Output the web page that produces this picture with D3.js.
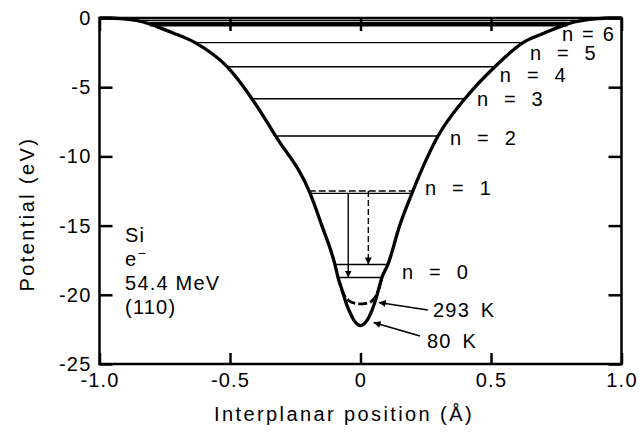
<!DOCTYPE html>
<html><head><meta charset="utf-8">
<script src="https://cdn.jsdelivr.net/npm/d3@7"></script>
<style>
html,body{margin:0;padding:0;background:#fff;}
svg{display:block;font-family:"Liberation Sans",Arial,Helvetica,sans-serif;}
</style></head><body>
<svg id="chart" width="644" height="432"></svg>
<script>
// Planar potential of Si (110) for 54.4 MeV electrons at 80 K
const wellX = [-1.0,-0.96,-0.92,-0.88,-0.833,-0.78,-0.718,-0.634,-0.511,-0.416,-0.325,-0.193,-0.148,-0.098,-0.086,-0.07,-0.055,-0.04,-0.025,-0.01,0,
               0.01,0.025,0.04,0.054,0.068,0.082,0.105,0.15,0.197,0.297,0.40,0.515,0.623,0.705,0.765,0.82,0.87,0.91,0.95,1.0];
const wellV = [0,0,-0.04,-0.12,-0.29,-0.62,-1.08,-1.78,-3.52,-5.83,-8.53,-12.67,-15.0,-17.81,-18.75,-19.7,-20.6,-21.3,-21.85,-22.15,-22.23,
               -22.15,-21.85,-21.3,-20.6,-19.7,-18.75,-17.81,-15.0,-12.67,-8.53,-5.83,-3.52,-1.78,-1.08,-0.62,-0.29,-0.12,-0.04,0,0];

// Thermally averaged bottom of the well at 293 K
const warmX = [-0.086,-0.07,-0.062,-0.045,-0.02,0,0.02,0.045,0.06,0.068,0.082];
const warmV = [-18.75,-19.7,-20.05,-20.42,-20.62,-20.66,-20.62,-20.42,-20.05,-19.7,-18.75];

// Bound-state energies (eV)
const levelNames = ["n = 0","n = 1","n = 2","n = 3","n = 4","n = 5","n = 6",""];
const levels80  = [-18.75,-12.67,-8.53,-5.83,-3.52,-1.78,-0.45,-0.18];
const levels293 = [-17.81,-12.5];

// Label anchors (Å, eV)
const levelLabelX = [0.159,0.247,0.343,0.446,0.534,0.649,0.772];
const levelLabelV = [-18.86,-12.79,-9.18,-6.36,-4.62,-3.03,-1.66];

// Transition arrows: position (Å), from level, to level
const arrowX    = [-0.047, 0.030];
const arrowFrom = [-12.67, -12.5];
const arrowTo   = [-18.75, -17.81];

const infoLines = ["Si","e","54.4 MeV","(110)"];
const tempLabels = ["293 K","80 K"];
const tempLabelX = [0.278,0.255];
const tempLabelV = [-21.6,-23.84];
const tempFromX  = [0.258,0.228];
const tempFromV  = [-21.1,-22.98];
const tempToX    = [0.07,0.05];
const tempToV    = [-20.55,-22.0];

const xTicks = [-1.0,-0.5,0,0.5,1.0];
const yTicks = [0,-5,-10,-15,-20,-25];

const svg = d3.select("#chart");
const x = d3.scaleLinear().domain([-1,1]).range([99.5,621.5]);
const y = d3.scaleLinear().domain([-25,0]).range([364,18]);

const FS = 20;
const LS = 1.2;

// arrowhead marker
const defs = svg.append("defs");
defs.append("marker").attr("id","head").attr("viewBox","0 0 10 10")
  .attr("refX",10).attr("refY",5).attr("markerWidth",7).attr("markerHeight",7)
  .attr("markerUnits","userSpaceOnUse").attr("orient","auto")
  .append("path").attr("d","M0,0L10,5L0,10Z").attr("fill","#000");

// crossing of a level with each wall of the well
function crossings(E){
  const pts=[];
  for(let i=0;i<wellX.length-1;i++){
    const a=wellV[i], b=wellV[i+1];
    if((a-E)*(b-E)<0 || (a===E && b!==E)){
      const t=(E-a)/(b-a);
      pts.push(wellX[i]+t*(wellX[i+1]-wellX[i]));
    }
  }
  return [d3.min(pts), d3.max(pts)];
}

const g = svg.append("g");

// energy levels
levels80.forEach((E,i)=>{
  const [a,b]=crossings(E);
  g.append("line").attr("x1",x(a)).attr("x2",x(b)).attr("y1",y(E)).attr("y2",y(E))
    .attr("stroke","#000").attr("stroke-width", i===6 ? 4.5 : 1.4);
});
levels293.forEach((E,i)=>{
  const [a,b]=crossings(E);
  g.append("line").attr("x1",x(a)).attr("x2",x(b)).attr("y1",y(E)).attr("y2",y(E))
    .attr("stroke","#000").attr("stroke-width",1.6)
    .attr("stroke-dasharray", i===1 ? "7,3" : null);
});

// transitions
arrowX.forEach((ax,i)=>{
  g.append("line").attr("x1",x(ax)).attr("x2",x(ax))
    .attr("y1",y(arrowFrom[i])).attr("y2",y(arrowTo[i]))
    .attr("stroke","#000").attr("stroke-width",1.4)
    .attr("stroke-dasharray", i===1 ? "6,3" : null)
    .attr("marker-end","url(#head)");
});

// potential curves
const line = d3.line().curve(d3.curveMonotoneX);
g.append("path").attr("d", line(wellX.map((v,i)=>[x(v),y(wellV[i])])))
  .attr("fill","none").attr("stroke","#000").attr("stroke-width",3.3).attr("stroke-linejoin","round");
g.append("path").attr("d", line(warmX.map((v,i)=>[x(v),y(warmV[i])])))
  .attr("fill","none").attr("stroke","#000").attr("stroke-width",2.8)
  .attr("stroke-dasharray","9,3");

// frame and axes
svg.append("rect").attr("x",x(-1)).attr("y",y(0)).attr("width",x(1)-x(-1)).attr("height",y(-25)-y(0))
  .attr("fill","none").attr("stroke","#000").attr("stroke-width",2.5);

function styleAxis(sel){
  sel.select(".domain").remove();
  sel.selectAll(".tick line").attr("stroke","#000").attr("stroke-width",2.5);
  sel.selectAll(".tick text").attr("fill","#000").attr("font-size",FS).attr("letter-spacing",LS)
     .attr("font-family",'"Liberation Sans",Arial,Helvetica,sans-serif');
}
const fx = d => d===0 ? "0" : d.toFixed(1);
svg.append("g").attr("transform",`translate(0,${y(-25)})`)
  .call(d3.axisBottom(x).tickValues(xTicks).tickSize(-11).tickPadding(9).tickFormat(fx))
  .call(styleAxis);
svg.append("g").attr("transform",`translate(0,${y(0)})`)
  .call(d3.axisTop(x).tickValues(xTicks).tickSize(-13).tickFormat(""))
  .call(styleAxis);
svg.append("g").attr("transform",`translate(${x(-1)},0)`)
  .call(d3.axisLeft(y).tickValues(yTicks).tickSize(-13).tickPadding(8).tickFormat(d=>String(d)))
  .call(styleAxis);
svg.append("g").attr("transform",`translate(${x(1)},0)`)
  .call(d3.axisRight(y).tickValues(yTicks).tickSize(-13).tickFormat(""))
  .call(styleAxis);

// axis titles
svg.append("text").attr("x",344).attr("y",421).attr("text-anchor","middle")
  .attr("font-size",FS).attr("letter-spacing",2.4).text("Interplanar position (Å)");
svg.append("text").attr("transform","translate(34,214) rotate(-90)").attr("text-anchor","middle")
  .attr("font-size",FS).attr("letter-spacing",2.4).text("Potential (eV)");

// level labels
levelLabelX.forEach((lx,i)=>{
  svg.append("text").attr("x",x(lx)).attr("y",y(levelLabelV[i]))
    .attr("font-size",FS).attr("letter-spacing",LS).attr("word-spacing", i===6 ? 1 : 8)
    .text(levelNames[i]);
});

// temperature labels with pointers
tempLabels.forEach((t,i)=>{
  svg.append("line").attr("x1",x(tempFromX[i])).attr("y1",y(tempFromV[i]))
    .attr("x2",x(tempToX[i])).attr("y2",y(tempToV[i]))
    .attr("stroke","#000").attr("stroke-width",1.5).attr("marker-end","url(#head)");
  svg.append("text").attr("x",x(tempLabelX[i])).attr("y",y(tempLabelV[i]))
    .attr("font-size",FS).attr("letter-spacing",LS).attr("word-spacing",4).text(t);
});

// beam / crystal description
const info = svg.append("text").attr("x",x(-0.902)).attr("font-size",FS).attr("letter-spacing",LS);
infoLines.forEach((s,i)=>{
  info.append("tspan").attr("x",x(-0.902)).attr("y",y(-16.18)+i*24).text(s);
  if(s==="e") info.append("tspan").attr("font-size",14).attr("dy",-8).text("−");
});
</script>
</body></html>
